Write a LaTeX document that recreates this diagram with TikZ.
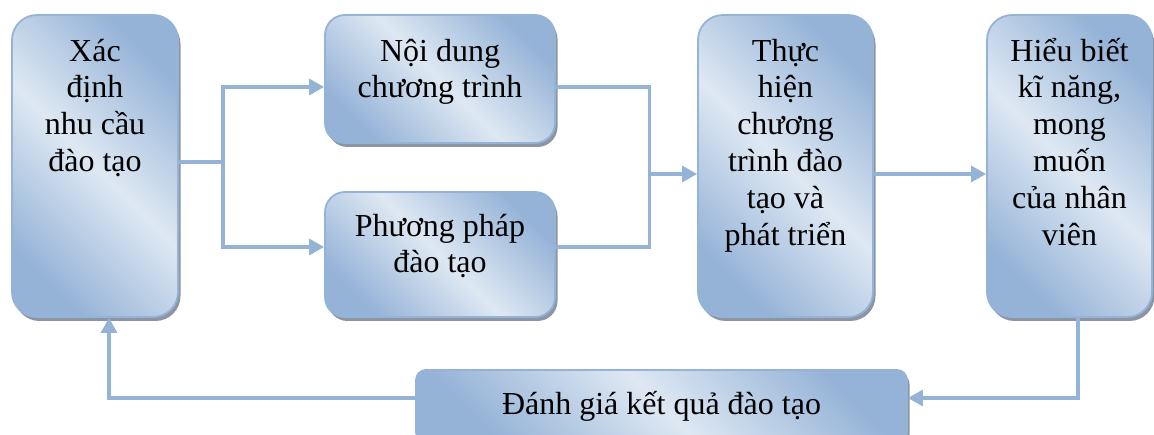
\documentclass[tikz,border=0pt]{standalone}
\usepackage{fontspec}
\setmainfont{Liberation Serif}
\usetikzlibrary{arrows.meta,shadows}
\definecolor{dk}{RGB}{149,179,215}
\definecolor{lt}{RGB}{222,232,243}
\definecolor{ln}{RGB}{149,179,215}
\definecolor{shd}{RGB}{128,138,154}
\pgfdeclarehorizontalshading{boxshade}{100bp}{color(0bp)=(dk); color(25bp)=(dk); color(50bp)=(lt); color(75bp)=(dk); color(100bp)=(dk)}
\newcommand\stk[1]{\vtop{\baselineskip=36.8pt\lineskiplimit=-1000pt\lineskip=0pt\halign{\hfil##\hfil\cr#1\crcr}}}
\tikzset{
  box/.style={rectangle, draw=ln, line width=1.8pt, shading=boxshade, shading angle=45, inner sep=0pt,
    drop shadow={shadow xshift=2.5pt, shadow yshift=-4pt, fill=shd, opacity=.9}},
  txt/.style={anchor=base, inner sep=0pt, font=\fontsize{32pt}{36.8pt}\selectfont},
  conn/.style={draw=ln, line width=3.2pt},
  arr/.style={conn, -{Triangle[length=15pt,width=16pt]}},
}
\begin{document}
\begin{tikzpicture}[x=1pt,y=-1pt]
\useasboundingbox (0,0) rectangle (1154,435);
\clip (0,0) rectangle (1154,435);
% boxes
\node[box, minimum width=166pt, minimum height=302pt, rounded corners=25pt] (b1) at (95,166) {};
\node[box, minimum width=230pt, minimum height=128pt, rounded corners=20pt] (b2) at (440,79) {};
\node[box, minimum width=230pt, minimum height=125pt, rounded corners=20pt] (b3) at (440,254.5) {};
\node[box, minimum width=175pt, minimum height=302pt, rounded corners=25pt] (b4) at (785.5,166) {};
\node[box, minimum width=165pt, minimum height=302pt, rounded corners=25pt] (b5) at (1069.5,166) {};
\node[box, minimum width=491pt, minimum height=72pt, rounded corners=10pt] (b6) at (661.5,406) {};
% texts
\node[txt] (t1) at ([yshift=-47pt]b1.north) {\stk{Xác\cr định\cr nhu cầu\cr đào tạo}};
\node[txt] (t2) at ([yshift=-47pt]b2.north) {\stk{Nội dung\cr chương trình}};
\node[txt] (t3) at ([yshift=-45pt]b3.north) {\stk{Phương pháp\cr đào tạo}};
\node[txt] (t4) at ([yshift=-47pt]b4.north) {\stk{Thực\cr hiện\cr chương\cr trình đào\cr tạo và\cr phát triển}};
\node[txt] (t5) at ([yshift=-47pt]b5.north) {\stk{Hiểu biết\cr kĩ năng,\cr mong\cr muốn\cr của nhân\cr viên}};
\node[txt] (t6) at ([yshift=-45pt]b6.north) {Đánh giá kết quả đào tạo};
% connectors
\coordinate (j1) at ([xshift=44pt,yshift=4pt]b1.east);
\coordinate (j2) at ([xshift=-48pt,yshift=-8pt]b4.west);
\draw[conn] (b1.east |- j1) -- (j1);
\draw[arr] (j1) |- ([yshift=-8pt]b2.west);
\draw[arr] (j1) |- ([yshift=7.5pt]b3.west);
\draw[conn] ([yshift=-8pt]b2.east) -| (j2);
\draw[conn] ([yshift=7.5pt]b3.east) -| (j2);
\draw[arr] (j2) -- ([yshift=-8pt]b4.west);
\draw[arr] ([yshift=-8pt]b4.east) -- ([yshift=-8pt]b5.west);
\draw[arr] ([xshift=8.5pt]b5.south) |- ([yshift=8pt]b6.east);
\draw[arr] ([yshift=8pt]b6.west) -| ([xshift=14pt]b1.south);
\end{tikzpicture}
\end{document}
